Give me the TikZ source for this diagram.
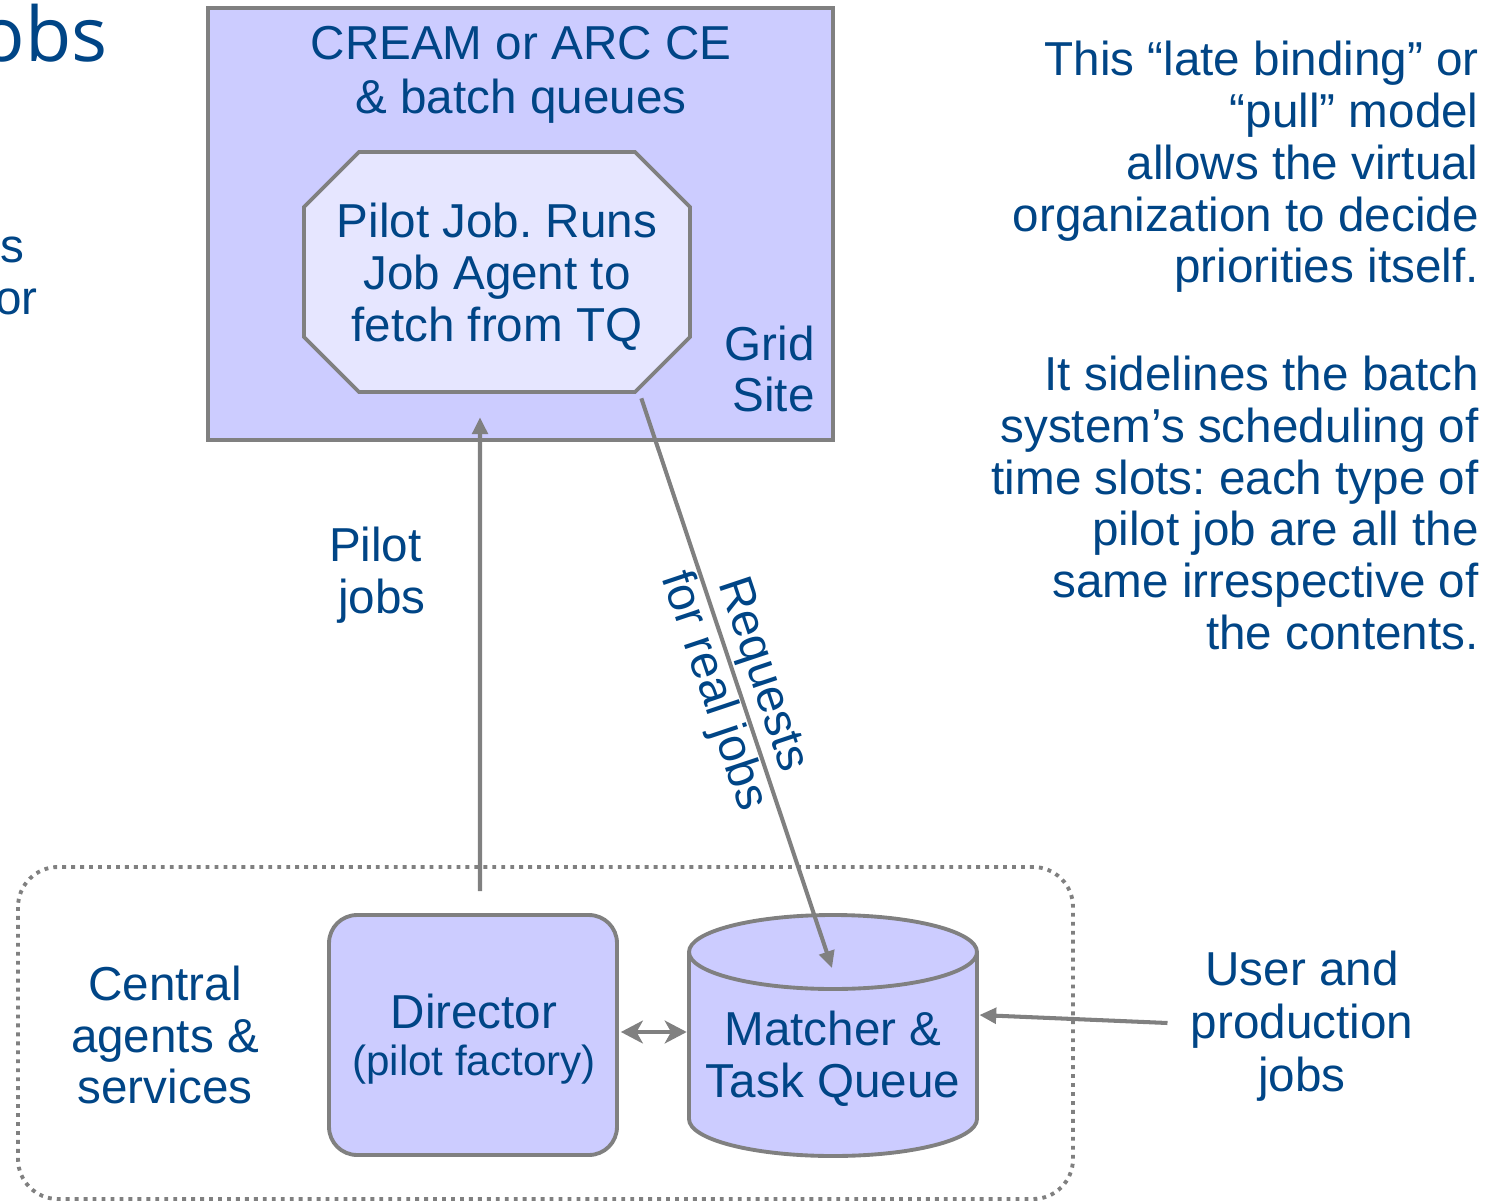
\documentclass[tikz,border=0pt]{standalone}
\usepackage{fontspec}
\setmainfont{Liberation Sans}
\newfontfamily\headingfont{Open Sans}
\usetikzlibrary{arrows.meta}
\frenchspacing
\definecolor{inkblue}{RGB}{0,69,134}
\definecolor{sitefill}{RGB}{204,204,255}
\definecolor{pilotfill}{RGB}{230,230,255}
\definecolor{linegray}{RGB}{128,128,128}
\tikzset{
  txt/.style={text=inkblue, inner sep=0pt, align=center, font=\fontsize{27.1}{29.5}\selectfont},
  outline/.style={draw=linegray, line width=2.2pt},
  conn/.style={draw=linegray, line width=2.3pt, -{Triangle[length=9.6pt, width=8.8pt]}},
  dconn/.style={draw=linegray, line width=2.3pt, {Stealth[length=12.5pt, width=13pt, inset=3.6pt]}-{Stealth[length=12.5pt, width=13pt, inset=3.6pt]}},
}
\begin{document}
\begin{tikzpicture}[x=0.02cm, y=-0.02cm]
\useasboundingbox (0,0) rectangle (1503,1202);
\fill[white] (0,0) rectangle (1503,1202);
\clip (0,0) rectangle (1503,1202);

% fragments of the slide title and body text at the left edge
\node[txt, font=\headingfont\fontsize{43}{50}\selectfont, anchor=base east] (title) at (108,62) {obs};
\node[txt, anchor=base east] (frag1) at (25,263) {s};
\node[txt, anchor=base east] (frag2) at (38,315) {or};

% grid site
\node[outline, fill=sitefill, minimum width=12.5cm, minimum height=8.64cm, inner sep=0pt] (site) at (520.5,224) {};
\node[txt, font=\fontsize{27.1}{30.6}\selectfont] (ce) at (521,75) {CREAM or ARC CE\\\& batch queues};
\node[txt, align=right, anchor=east] (gridlbl) at (815,369) {Grid\\Site};

% pilot job octagon
\draw[outline, fill=pilotfill] (359,152) -- (635,152) -- (690,207) -- (690,337) -- (635,392) -- (359,392) -- (304,337) -- (304,207) -- cycle;
\node[txt, minimum width=7.72cm, minimum height=4.8cm] (pilot) at (497,277) {Pilot Job. Runs\\Job Agent to\\fetch from TQ};

% central services area
\draw[linegray, line width=2.2pt, dash pattern=on 2.2pt off 2.9pt, rounded corners=0.8cm] (18,867) rectangle (1073,1199);
\node[txt] (central) at (165,1035) {Central\\agents \&\\services};

\node[outline, fill=sitefill, rounded corners=0.56cm, minimum width=5.76cm, minimum height=4.8cm, inner sep=0pt] (dir) at (473,1035) {};
\node[txt, font=\fontsize{27.1}{26.6}\selectfont] (dirlabel) at (474,1039) {Director\\{\fontsize{24}{26.6}\selectfont (pilot factory)}};

% task queue cylinder
\draw[outline, fill=sitefill] (689,952) -- (689,1119) arc[start angle=180, end angle=0, x radius=144, y radius=37] -- (977,952);
\draw[outline, fill=sitefill] (833,952) ellipse [x radius=144, y radius=37];
\node[minimum width=5.76cm, minimum height=4.84cm, inner sep=0pt] (tq) at (833,1036) {};
\node[txt] (tqlabel) at (833,1059) {Matcher \&\\Task Queue};

\node[txt, font=\fontsize{27.1}{30.3}\selectfont] (user) at (1302,1026) {User and\\production\\jobs};

% explanatory text
\node[txt, align=right, anchor=east] (para1) at (1479,167) {This “late binding” or\\“pull” model\\allows the virtual\\organization to decide\\priorities itself.};
\node[txt, align=right, anchor=east] (para2) at (1479,503) {It sidelines the batch\\system’s scheduling of\\time slots: each type of\\pilot job are all the\\same irrespective of\\the contents.};

\node[txt] (pjlbl) at (382,575) {Pilot\hspace*{0.28em}\\jobs};

% connectors
\draw[conn] ([xshift=0.14cm, yshift=0.44cm]dir.north) -- ([xshift=-0.34cm, yshift=-0.4cm]pilot.south);
\draw[conn] ([xshift=-0.98cm, yshift=-0.02cm]pilot.south east) -- node[txt, sloped, midway] {Requests\\for real jobs} ([xshift=-0.02cm, yshift=1.36cm]tq.center);
\draw[dconn] ([xshift=0.04cm, yshift=0.06cm]dir.east) -- ([xshift=-0.04cm, yshift=0.06cm]dir.east -| tq.west);
\draw[conn] ([xshift=-0.46cm, yshift=0.06cm]user.west) -- ([xshift=0.04cm, yshift=0.42cm]tq.east);
\end{tikzpicture}
\end{document}
